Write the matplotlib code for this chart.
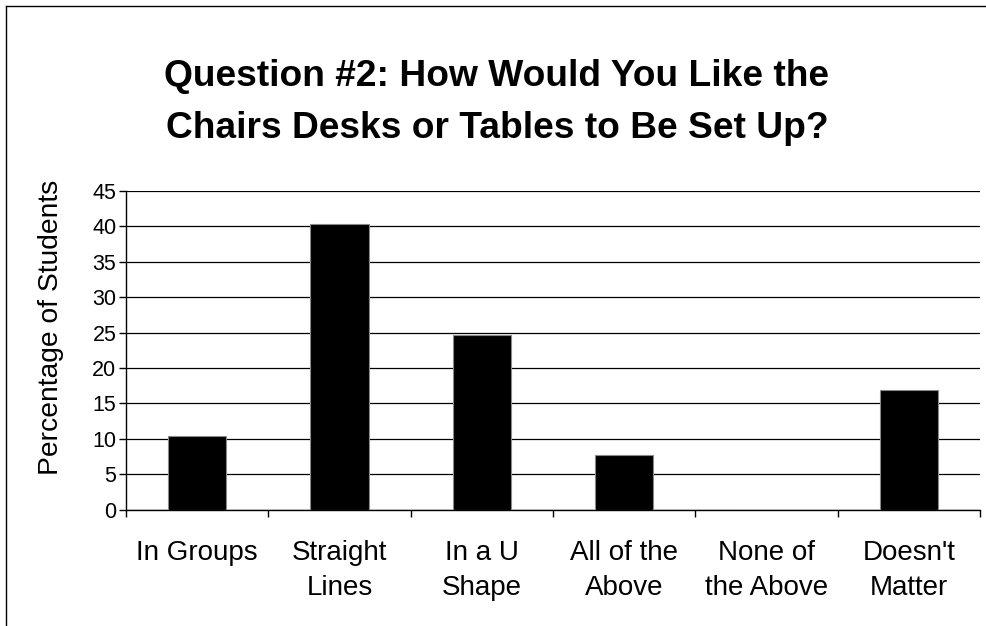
import matplotlib
matplotlib.use("Agg")
import matplotlib.pyplot as plt
from matplotlib.lines import Line2D

plt.rcParams['font.family'] = ['Liberation Sans', 'DejaVu Sans']

categories = ["In Groups", "Straight\nLines", "In a U\nShape", "All of the\nAbove",
              "None of\nthe Above", "Doesn't\nMatter"]
percentages = [10.4, 40.3, 24.7, 7.7, 0.0, 16.9]
y_ticks = [0, 5, 10, 15, 20, 25, 30, 35, 40, 45]

fig = plt.figure(figsize=(9.86, 6.26), dpi=100)
ax = fig.add_axes([0.1278, 0.186, 0.866, 0.509])

positions = list(range(len(categories)))
ax.bar(positions, percentages, width=0.41, color='black', edgecolor='#8a8a8a',
       linewidth=0.8, zorder=3)

ax.set_xlim(-0.5, len(categories) - 0.5)
ax.set_ylim(0, 45)
ax.set_yticks(y_ticks)
ax.set_yticklabels([str(t) for t in y_ticks], fontsize=15.5)
ax.yaxis.grid(True, color='black', linewidth=0.9, zorder=0)
ax.set_axisbelow(True)

# category boundaries carry the tick marks, centres carry the labels
ax.set_xticks([p - 0.5 for p in positions] + [len(categories) - 0.5])
ax.set_xticklabels([])
ax.set_xticks(positions, minor=True)
ax.set_xticklabels(categories, minor=True, fontsize=20, linespacing=1.45)
ax.tick_params(axis='x', which='minor', length=0, pad=22)
ax.tick_params(axis='x', which='major', length=5, width=1, direction='out')
ax.tick_params(axis='y', length=5, width=1, direction='out', pad=2)

for side in ('top', 'right'):
    ax.spines[side].set_visible(False)
for side in ('left', 'bottom'):
    ax.spines[side].set_color('black')
    ax.spines[side].set_linewidth(1)

fig.text(51 / 986, 1 - 327 / 626, "Percentage of Students", rotation=90,
         ha='center', va='center', fontsize=20.3)

fig.text(497 / 986, 1 - 76 / 626, "Question #2: How Would You Like the",
         ha='center', va='center', fontsize=26.7, fontweight='bold')
fig.text(497 / 986, 1 - 129 / 626, "Chairs Desks or Tables to Be Set Up?",
         ha='center', va='center', fontsize=26.7, fontweight='bold')

# chart-area frame along the left and top edges
fig.add_artist(Line2D([5.5 / 986, 5.5 / 986], [0, 1 - 6 / 626], color='black',
                      linewidth=1, transform=fig.transFigure))
fig.add_artist(Line2D([5.5 / 986, 1], [1 - 6 / 626, 1 - 6 / 626], color='black',
                      linewidth=1, transform=fig.transFigure))

fig.savefig("out.png", dpi=100)
